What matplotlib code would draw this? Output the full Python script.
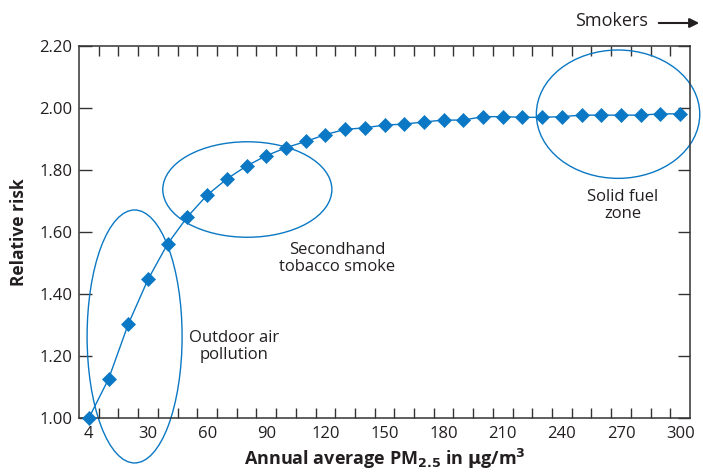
import numpy as np
import matplotlib
matplotlib.use('Agg')
import matplotlib.pyplot as plt
from matplotlib.patches import Ellipse, FancyArrowPatch

plt.rcParams['font.family'] = ['Open Sans', 'DejaVu Sans']

# PM2.5 categories (evenly spaced on the axis) and relative risk
pm_values = [4, 10, 20, 30, 40, 50, 60, 70, 80, 90, 100, 110, 120, 130, 140, 150,
             160, 170, 180, 190, 200, 210, 220, 230, 240, 250, 260, 270, 280, 290, 300]
relative_risk = [1.000, 1.126, 1.303, 1.447, 1.562, 1.649, 1.719, 1.771, 1.813, 1.846,
                 1.872, 1.892, 1.914, 1.931, 1.936, 1.945, 1.948, 1.955, 1.961, 1.961,
                 1.972, 1.972, 1.970, 1.970, 1.972, 1.977, 1.977, 1.977, 1.977, 1.981,
                 1.981]
labelled_pm = [4, 30, 60, 90, 120, 150, 180, 210, 240, 270, 300]
y_ticks = [1.00, 1.20, 1.40, 1.60, 1.80, 2.00, 2.20]

BLUE = '#0a78c4'
DARK = '#231f20'

fig = plt.figure(figsize=(7.03, 4.75), dpi=100)
ax = fig.add_axes([0.1124, 0.12, 0.8691, 0.7832])

pos = np.arange(len(pm_values))
ax.plot(pos, relative_risk, color=BLUE, lw=1.0, marker='D', markersize=6.8,
        markeredgewidth=0.5, markeredgecolor=BLUE, clip_on=False, zorder=3)

ax.set_xlim(-0.5, len(pm_values) - 0.5)
ax.set_ylim(1.0, 2.2)

# category-style ticks: marks on category boundaries, labels on points
tick_pos = [pm_values.index(v) for v in labelled_pm]
ax.set_xticks(tick_pos)
ax.set_xticklabels([str(v) for v in labelled_pm])
ax.set_xticks(np.arange(0.5, len(pm_values) - 1, 1.0), minor=True)
ax.tick_params(axis='x', which='major', length=0, pad=6, labelsize=12, colors=DARK)
ax.tick_params(axis='x', which='minor', direction='in', length=7, width=1.0,
               top=True, bottom=True, color='#333333')
ax.set_yticks(y_ticks)
ax.set_yticklabels(['%.2f' % v for v in y_ticks])
ax.tick_params(axis='y', direction='in', length=9, width=1.0, left=True, right=True,
               labelsize=12, colors='#333333', labelcolor=DARK, pad=5)

for s in ax.spines.values():
    s.set_color('#333333')
    s.set_linewidth(1.1)

ax.set_ylabel('Relative risk', fontsize=12.5, fontweight='bold', color=DARK, labelpad=8)
ax.set_xlabel(r'Annual average PM$_{\mathbf{2.5}}$ in $\mathbf{\mu}$g/m$^{\mathbf{3}}$',
              fontsize=13, fontweight='bold', color=DARK, labelpad=3)

# annotation ellipses
ellipses = [(2.32, 1.263, 4.82, 0.816),
            (8.04, 1.737, 8.58, 0.308),
            (26.85, 1.980, 8.29, 0.414)]
for xc, yc, w, h in ellipses:
    ax.add_patch(Ellipse((xc, yc), w, h, fill=False, edgecolor=BLUE, lw=1.0,
                         clip_on=False, zorder=2))

ax.text(7.35, 1.23, 'Outdoor air\npollution', ha='center', va='center', fontsize=12,
        color=DARK, linespacing=1.05)
ax.text(12.6, 1.515, 'Secondhand\ntobacco smoke', ha='center', va='center', fontsize=12,
        color=DARK, linespacing=1.05)
ax.text(27.1, 1.685, 'Solid fuel\nzone', ha='center', va='center', fontsize=12,
        color=DARK, linespacing=1.05)

fig.text(612 / 703, 1 - 21 / 475, 'Smokers', ha='center', va='center', fontsize=13,
         color=DARK)
fig.patches.append(FancyArrowPatch(
    (656 / 703, 1 - 23 / 475), (702 / 703, 1 - 23 / 475), transform=fig.transFigure,
    arrowstyle='-|>', mutation_scale=14, color=DARK, lw=1.5))

fig.savefig('out.png', dpi=100)
